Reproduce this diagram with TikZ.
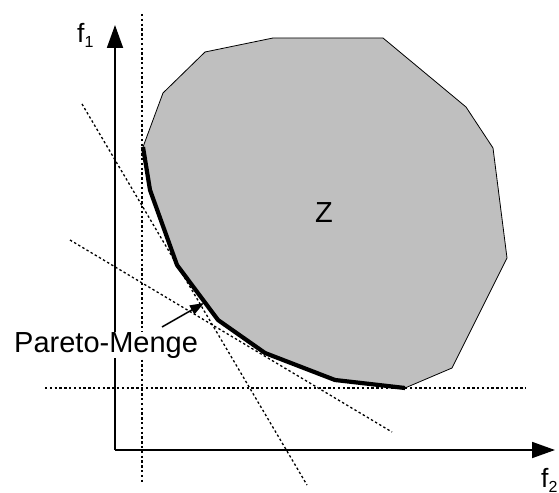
\documentclass[tikz,border=0pt]{standalone}
\usepackage{fontspec}
\setmainfont{Liberation Sans}
\usetikzlibrary{arrows.meta}
\tikzset{
  axis/.style={line width=1.8bp, -{Triangle[length=23bp,width=16bp]}},
  guide/.style={line width=1.3bp, dash pattern=on 2.4bp off 2.4bp},
  region/.style={fill=black!25, draw=black, line width=0.8bp, line join=miter},
  pareto/.style={line width=4.2bp, line join=round},
  lbl/.style={inner sep=0pt, anchor=base west, font=\fontsize{29bp}{33bp}\selectfont},
  axlbl/.style={inner sep=0pt, anchor=base west, font=\fontsize{26.5bp}{30bp}\selectfont},
  pointer/.style={line width=1.5bp, -{Triangle[length=14bp,width=10bp]}}
}
\begin{document}
\begin{tikzpicture}[x=1bp,y=-1bp]
\useasboundingbox (0,0) rectangle (559,493);
% region Z
\draw[region] (143,147) -- (163,93) -- (205,52) -- (273,38) -- (383,38) -- (466,107)
  -- (493,148) -- (507,258) -- (452,368) -- (405,388) -- (335,380) -- (265,353)
  -- (218,320) -- (177,265) -- (150,190) -- cycle;
% guide lines
\coordinate (v1) at (142,14);  \coordinate (v2) at (142,483);
\coordinate (h1) at (45,388);  \coordinate (h2) at (526,388);
\coordinate (d1a) at (82,104); \coordinate (d1b) at (307,485);
\coordinate (d2a) at (70,240); \coordinate (d2b) at (392,432);
\draw[guide] (v1) -- (v2);
\draw[guide] (h1) -- (h2);
\draw[guide] (d1a) -- (d1b);
\draw[guide] (d2a) -- (d2b);
% pareto set
\draw[pareto] (143,147) -- (150,190) -- (177,265) -- (218,320) -- (265,353) -- (335,380) -- (405,388);
% axes
\coordinate (O) at (115,450);
\coordinate (yt) at (115,25);
\coordinate (xt) at (555,450);
\draw[axis] (O) -- (yt);
\draw[axis] (O) -- (xt);
% labels
\node[axlbl] (f1) at (77,43) {f\raisebox{-5bp}{\fontsize{16bp}{16bp}\selectfont 1}};
\node[axlbl] (f2) at (541,487) {f\raisebox{-5bp}{\fontsize{16bp}{16bp}\selectfont 2}};
\node[lbl] (z) at (315,223) {Z};
\node[lbl, fill=white] (pm) at (14,352) {Pareto-Menge};
\coordinate (ps) at (162,327);
\coordinate (pt) at (204,303);
\draw[pointer] (ps) -- (pt);
\end{tikzpicture}
\end{document}
